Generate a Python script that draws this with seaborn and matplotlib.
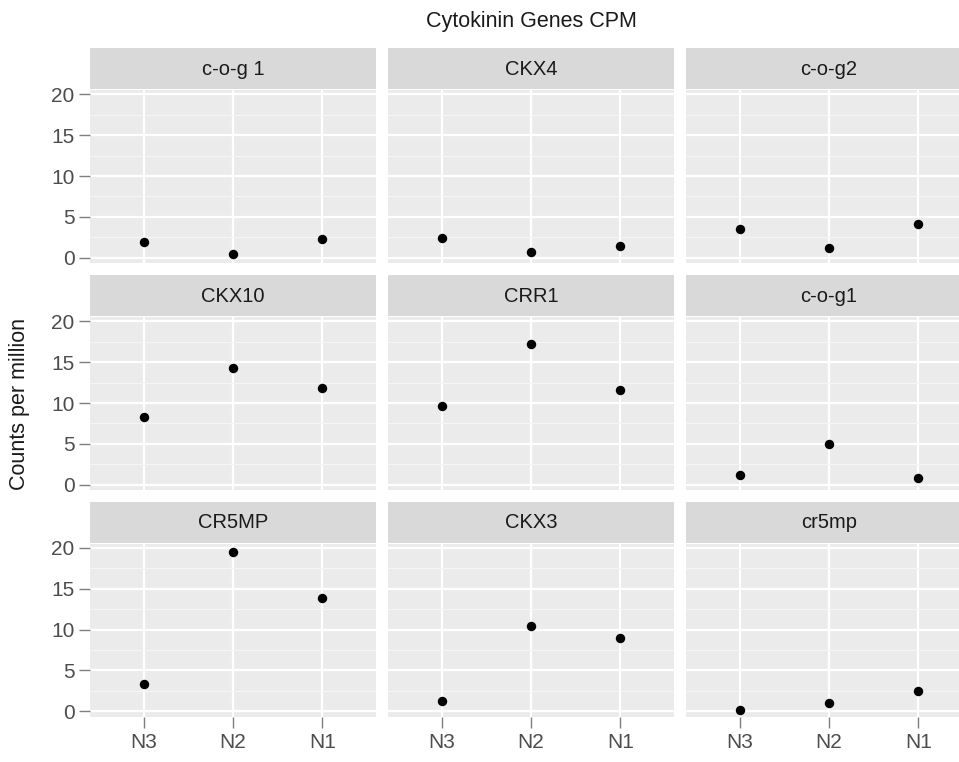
import matplotlib
matplotlib.use("Agg")
import matplotlib.pyplot as plt
import seaborn as sns
import pandas as pd

# ---- data ----
genes = ["c-o-g 1", "CKX4", "c-o-g2",
         "CKX10", "CRR1", "c-o-g1",
         "CR5MP", "CKX3", "cr5mp"]
conditions = ["N3", "N2", "N1"]
cpm_N3 = [1.87, 2.37, 3.53, 8.24, 9.67, 1.23, 3.35, 1.19, 0.16]
cpm_N2 = [0.41, 0.68, 1.20, 14.34, 17.25, 5.04, 19.55, 10.50, 1.02]
cpm_N1 = [2.28, 1.43, 4.10, 11.80, 11.56, 0.82, 13.86, 9.00, 2.50]
y_ticks = [0, 5, 10, 15, 20]
title = "Cytokinin Genes CPM"
y_label = "Counts per million"

rows = []
for g, a, b, c in zip(genes, cpm_N3, cpm_N2, cpm_N1):
    for cond, v in zip(conditions, [a, b, c]):
        rows.append({"gene": g, "condition": cond, "cpm": v})
df = pd.DataFrame(rows)

sns.set_theme(style="white")
plt.rcParams["font.family"] = ["Liberation Sans", "DejaVu Sans"]

W, H = 959, 762
fig = plt.figure(figsize=(W / 100, H / 100), dpi=100)

panel_bg = "#EBEBEB"
strip_bg = "#D9D9D9"
tick_col = "#4D4D4D"

col_left = [90, 388, 686]
panel_w = 286
row_top = [90, 317, 543.5]
panel_h = 173
strip_h = 41

for i, g in enumerate(genes):
    r, c = divmod(i, 3)
    x0 = col_left[c]
    y_top = row_top[r]
    ax = fig.add_axes([x0 / W, 1 - (y_top + panel_h) / H, panel_w / W, panel_h / H])
    sub = df[df["gene"] == g]
    sns.stripplot(data=sub, x="condition", y="cpm", order=conditions,
                  jitter=False, color="black", size=6.8, ax=ax, zorder=5)
    ax.set_xlim(-0.6, 2.6)
    ax.set_ylim(-0.65, 20.55)
    ax.set_facecolor(panel_bg)
    for s in ax.spines.values():
        s.set_visible(False)
    ax.set_yticks(y_ticks)
    ax.set_yticks([2.5, 7.5, 12.5, 17.5], minor=True)
    ax.grid(True, which="major", color="white", linewidth=1.6)
    ax.grid(True, which="minor", axis="y", color="#F5F5F5", linewidth=0.8)
    ax.set_axisbelow(True)
    ax.set_xlabel("")
    ax.set_ylabel("")
    ax.tick_params(axis="both", which="major", length=8, width=1,
                   color="#7F7F7F", labelcolor=tick_col, labelsize=15, pad=3,
                   bottom=(r == 2), left=(c == 0))
    ax.tick_params(axis="x", pad=4)
    ax.tick_params(axis="both", which="minor", length=0)
    if c != 0:
        ax.set_yticklabels([])
        ax.tick_params(axis="y", left=False)
    if r != 2:
        ax.set_xticklabels([])
        ax.tick_params(axis="x", bottom=False)

    # strip
    sax = fig.add_axes([x0 / W, 1 - (y_top - 1) / H, panel_w / W, strip_h / H])
    sax.set_facecolor(strip_bg)
    sax.set_xticks([])
    sax.set_yticks([])
    for s in sax.spines.values():
        s.set_visible(False)
    sax.text(0.5, 0.48, g, ha="center", va="center", fontsize=14.5,
             color="#1A1A1A", transform=sax.transAxes)

fig.text(531 / W, 1 - 22 / H, title, ha="center", va="center",
         fontsize=15.5, color="#1A1A1A")
fig.text(20 / W, 1 - 404 / H, y_label, ha="center", va="center",
         rotation=90, fontsize=15.5, color="#1A1A1A")

fig.savefig("out.png", dpi=100, facecolor="white")
